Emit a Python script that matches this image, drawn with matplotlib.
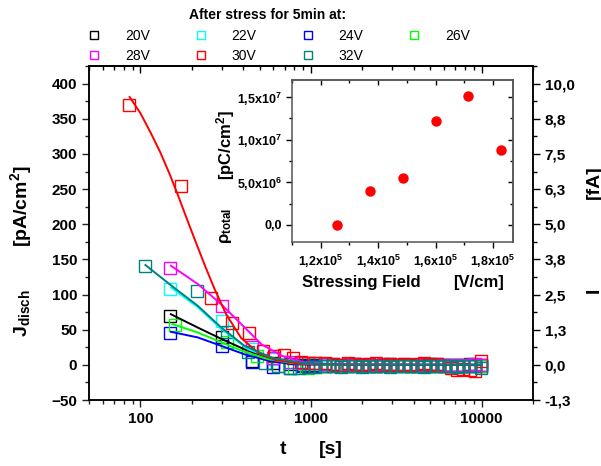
import numpy as np
import matplotlib.pyplot as plt
from matplotlib.lines import Line2D
from matplotlib.ticker import MultipleLocator, LogLocator, NullFormatter, FuncFormatter

plt.rcParams['font.family'] = ['Liberation Sans', 'DejaVu Sans']
plt.rcParams['font.weight'] = 'bold'
plt.rcParams['mathtext.fontset'] = 'custom'
plt.rcParams['mathtext.rm'] = 'Liberation Sans:bold'
plt.rcParams['mathtext.bf'] = 'Liberation Sans:bold'
plt.rcParams['mathtext.it'] = 'Liberation Sans:bold:italic'
plt.rcParams['axes.linewidth'] = 1.1

# ---- main data: discharge current density vs time, one series per stress voltage
labels = ['20V', '22V', '24V', '26V', '28V', '30V', '32V']
colors = ['#000000', '#00FFFF', '#0000FF', '#00FF00', '#FF00FF', '#FF0000', '#008080']

t_20 = [150, 300, 450, 600, 750, 900]
j_20 = [70, 39, 5, 3, 1, 0]
t_22 = [150, 300, 450, 600, 750, 900]
j_22 = [108, 63, 22, 8, 3, 1]
t_24 = [150, 300, 450, 600, 750, 900]
j_24 = [45, 27, 4, -3, -4, -2]
t_26 = [160, 320, 480, 640, 800, 960]
j_26 = [56, 33, 12, -2, -5, -4]
t_28 = [150, 300, 450, 600, 750, 900]
j_28 = [138, 83, 25, 10, 4, 2]
t_30 = [86, 172, 260, 345, 431, 520, 610, 690, 780, 870, 960]
j_30 = [370, 254, 95, 60, 46, 20, 12, 14, 10, 4, 2]
t_32 = [107, 214, 321, 428, 535, 642, 749, 856, 963]
j_32 = [140, 105, 47, 18, 3, -2, -5, -4, -3]

# long-time tail (all series sampled to ~10^4 s)
t_tail = [1050, 1200, 1350, 1500, 1650, 1800, 2000, 2200, 2400, 2650, 2900, 3200, 3500,
          3800, 4200, 4600, 5000, 5500, 6000, 6600, 7200, 7800, 8500, 9200, 9900]
tail_20 = [0, 1, 0, -1, 0, 1, 0, 0, -1, 0, 1, 0, 0, -1, 0, 0, 1, 0, 0, -1, 0, 0, 1, 0, 0]
tail_22 = [1, 0, 1, 0, 0, 1, 0, -1, 0, 0, 1, 0, 0, 0, -1, 0, 0, 1, 0, 0, 0, -1, 0, 1, 0]
tail_24 = [-2, -1, -2, -1, -1, 0, -1, -2, -1, 0, -1, -1, 0, -1, -2, -1, 0, -1, -1, 0, -1, -2, -1, 0, -1]
tail_26 = [-3, -2, -2, -1, -2, -1, -1, -2, 0, -1, -1, 0, -1, -2, -1, 0, -1, -1, 0, -1, -2, -1, 0, -1, -1]
tail_28 = [2, 1, 1, 0, 1, 0, 1, 0, 0, 1, 0, 0, 1, 0, 0, -1, 0, 1, 0, 0, -1, 0, 0, 1, 0]
tail_30 = [3, 2, 1, 0, 2, 1, 0, 1, 2, 0, 1, 0, 1, 0, 1, 2, 0, 1, -2, -4, -8, -6, -7, -9, 6]
tail_32 = [-3, -1, -2, -3, -1, -2, -3, -2, -1, -2, -3, -1, -2, -1, -2, -3, -1, -2, -2, -1,
           -3, -2, -1, -2, -4]

# decay fits
fit_t_20 = [151, 217, 298, 408, 565, 775, 1200, 3000, 10000]
fit_j_20 = [72, 53, 37, 22, 10, 4, 1, 0, 0]
fit_t_22 = [151, 217, 298, 429, 615, 900, 1500, 4000, 10000]
fit_j_22 = [110, 82, 51, 22, 8, 2.5, 0.5, 0, 0]
fit_t_24 = [151, 217, 298, 408, 565, 775, 1200, 10000]
fit_j_24 = [47, 39, 27, 15, 5.7, 1, 0, 0]
fit_t_26 = [154, 217, 298, 408, 565, 775, 1200, 10000]
fit_j_26 = [58, 46, 32, 18.5, 8, 2.4, 0.3, 0]
fit_t_28 = [151, 217, 298, 390, 514, 674, 923, 1500, 10000]
fit_j_28 = [141, 115, 86, 58, 29, 13, 3, 0.5, 0]
fit_t_30 = [86.5, 100, 115, 131, 148, 165, 185, 207, 240, 272, 318, 390, 490, 615, 843, 1500, 10000]
fit_j_30 = [381, 358, 330, 302, 272, 243, 211, 180, 140, 108, 72, 38, 17, 7, 2, 0.3, 0]
fit_t_32 = [107, 157, 217, 298, 408, 592, 923, 1500, 10000]
fit_j_32 = [142, 110, 84, 53, 27, 10, 2.4, 0.5, 0]

right_ticks = [-1.25, 0, 1.25, 2.5, 3.75, 5.0, 6.25, 7.5, 8.75, 10.0]
right_labels = ['-1,3', '0,0', '1,3', '2,5', '3,8', '5,0', '6,3', '7,5', '8,8', '10,0']

# ---- inset data: total charge vs stressing field
field = [1.257e5, 1.371e5, 1.486e5, 1.600e5, 1.714e5, 1.829e5]
rho_total = [0.0, 3.97e6, 5.54e6, 1.218e7, 1.513e7, 8.84e6]
inset_xticks = [1.2e5, 1.4e5, 1.6e5, 1.8e5]
inset_xlabels = ['1,2x10$^{5}$', '1,4x10$^{5}$', '1,6x10$^{5}$', '1,8x10$^{5}$']
inset_yticks = [0, 5e6, 1e7, 1.5e7]
inset_ylabels = ['0,0', '5,0x10$^{6}$', '1,0x10$^{7}$', '1,5x10$^{7}$']

series_t = [t_20 + t_tail, t_22 + t_tail, t_24 + t_tail, t_26 + t_tail,
            t_28 + t_tail, t_30 + t_tail, t_32 + t_tail]
series_j = [j_20 + tail_20, j_22 + tail_22, j_24 + tail_24, j_26 + tail_26,
            j_28 + tail_28, j_30 + tail_30, j_32 + tail_32]
fits_t = [fit_t_20, fit_t_22, fit_t_24, fit_t_26, fit_t_28, fit_t_30, fit_t_32]
fits_j = [fit_j_20, fit_j_22, fit_j_24, fit_j_26, fit_j_28, fit_j_30, fit_j_32]

fig = plt.figure(figsize=(6.01, 4.66), dpi=100)
ax = fig.add_axes([0.1481, 0.1416, 0.7388, 0.7167])

for t, j, c in zip(series_t, series_j, colors):
    ax.plot(t, j, ls='none', marker='s', ms=8.5, mfc='none', mec=c, mew=1.0)
for t, j, c in zip(fits_t, fits_j, colors):
    ax.plot(t, j, '-', color=c, lw=1.4)

ax.set_xscale('log')
ax.set_xlim(50, 20000)
ax.set_ylim(-50, 425)
ax.xaxis.set_major_locator(LogLocator(base=10))
ax.xaxis.set_minor_locator(LogLocator(base=10, subs=np.arange(2, 10)))
ax.xaxis.set_major_formatter(FuncFormatter(lambda v, p: f'{v:.0f}'))
ax.xaxis.set_minor_formatter(NullFormatter())
ax.yaxis.set_major_locator(MultipleLocator(50))
ax.yaxis.set_minor_locator(MultipleLocator(25))
ax.tick_params(which='both', direction='out', labelsize=11, width=1.0, colors='#222222',
               labelcolor='black')
ax.tick_params(which='major', length=5)
ax.tick_params(which='minor', length=3)

top = ax.secondary_xaxis('top')
top.xaxis.set_minor_locator(LogLocator(base=10, subs=np.arange(2, 10)))
top.tick_params(which='both', direction='in', labeltop=False, width=1.0)
top.tick_params(which='major', length=5)
top.tick_params(which='minor', length=3)

ax2 = ax.twinx()
ax2.set_ylim(-50 / 40, 425 / 40)
ax2.set_yticks(right_ticks)
ax2.set_yticklabels(right_labels)
ax2.yaxis.set_minor_locator(MultipleLocator(0.625))
ax2.tick_params(which='both', direction='out', labelsize=11, width=1.0)
ax2.tick_params(which='major', length=5)
ax2.tick_params(which='minor', length=3)

# axis labels
fig.text(21 / 601, 1 - 206 / 466, r'[pA/cm$^{2}$]', rotation=90, ha='center', va='center', fontsize=14)
fig.text(22 / 601, 1 - 313 / 466, r'J$_{\mathbf{disch}}$', rotation=90, ha='center', va='center', fontsize=14)
fig.text(283 / 601, 1 - 450 / 466, 't', ha='center', va='center', fontsize=14)
fig.text(331 / 601, 1 - 450 / 466, '[s]', ha='center', va='center', fontsize=14)
fig.text(594 / 601, 1 - 182 / 466, '[fA]', rotation=90, ha='center', va='center', fontsize=14)
fig.text(594 / 601, 1 - 290 / 466, 'I', rotation=90, ha='center', va='center', fontsize=14)

# legend
handles = [Line2D([], [], ls='none', marker='s', ms=6, mfc='none', mec=c, mew=1.0) for c in colors]
order = [0, 4, 1, 5, 2, 6, 3]
fig.legend([handles[i] for i in order], [labels[i] for i in order], ncol=4, frameon=False,
           loc='upper left', bbox_to_anchor=(80 / 601, 1 - 22 / 466), borderpad=0,
           handlelength=1.0, handletextpad=1.73, columnspacing=3.17, labelspacing=0.45,
           prop={'weight': 'normal', 'size': 10})
fig.text(268 / 601, 1 - 15 / 466, 'After stress for 5min at:', ha='center', va='center', fontsize=10)

# inset
ins = fig.add_axes([292 / 601, 1 - 242 / 466, 221 / 601, 162 / 466])
ins.plot(field, rho_total, 'o', color='#FF0000', ms=7.5, mec='none')
ins.set_xlim(1.1e5, 1.87e5)
ins.set_ylim(-2e6, 1.7e7)
ins.set_xticks(inset_xticks)
ins.set_xticklabels(inset_xlabels)
ins.set_yticks(inset_yticks)
ins.set_yticklabels(inset_ylabels)
ins.xaxis.set_minor_locator(MultipleLocator(1e4))
ins.yaxis.set_minor_locator(MultipleLocator(2.5e6))
ins.tick_params(which='both', direction='out', labelsize=9, width=1.0)
ins.tick_params(which='major', length=4)
ins.tick_params(which='minor', length=2.5)
for sp in ins.spines.values():
    sp.set_color('#555555')
itop = ins.secondary_xaxis('top')
itop.set_xticks(inset_xticks)
itop.xaxis.set_minor_locator(MultipleLocator(1e4))
itop.tick_params(which='both', direction='in', labeltop=False, width=1.0)
iright = ins.secondary_yaxis('right')
iright.set_yticks(inset_yticks)
iright.yaxis.set_minor_locator(MultipleLocator(2.5e6))
iright.tick_params(which='both', direction='in', labelright=False, width=1.0)
for a in (itop, iright):
    for sp in a.spines.values():
        sp.set_color('#555555')

fig.text(361 / 601, 1 - 282 / 466, 'Stressing Field', ha='center', va='center', fontsize=12)
fig.text(479 / 601, 1 - 282 / 466, '[V/cm]', ha='center', va='center', fontsize=12)
fig.text(226 / 601, 1 - 145 / 466, r'[pC/cm$^{2}$]', rotation=90, ha='center', va='center', fontsize=12)
fig.text(226 / 601, 1 - 226 / 466, r'ρ$_{\mathbf{total}}$', rotation=90, ha='center', va='center', fontsize=12)

fig.savefig('out.png', dpi=100)
